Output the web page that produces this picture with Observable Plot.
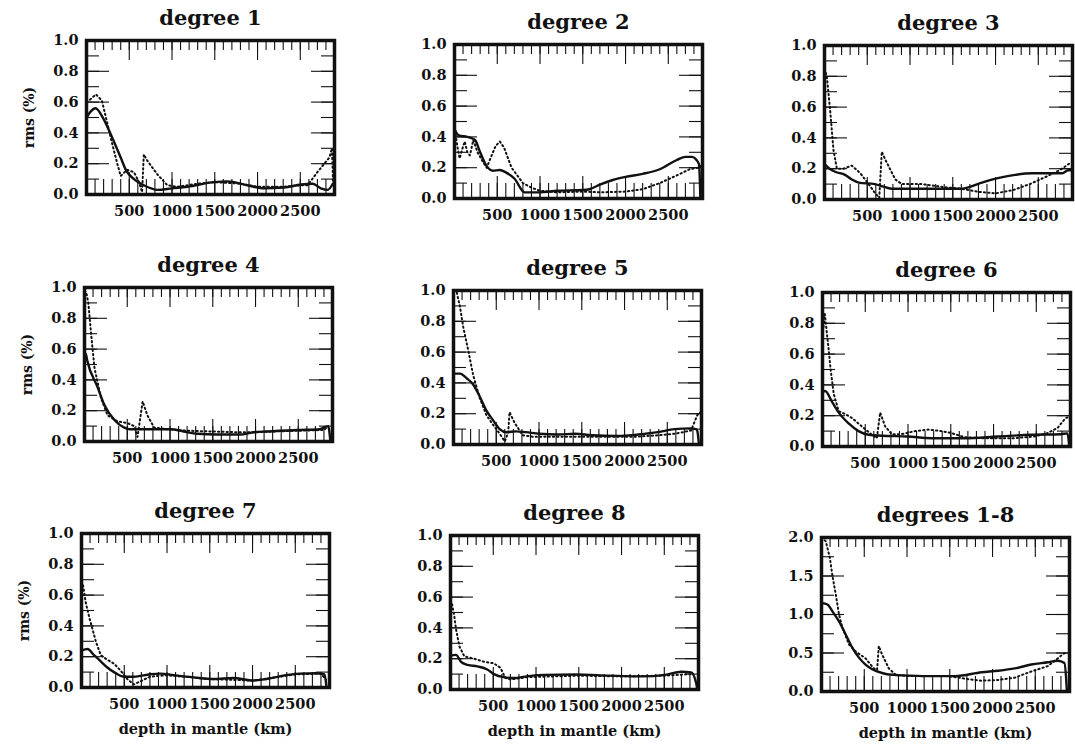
<!DOCTYPE html>
<html><head><meta charset="utf-8">
<script src="https://cdn.jsdelivr.net/npm/d3@7"></script>
<script src="https://cdn.jsdelivr.net/npm/@observablehq/plot@0.6"></script>
<style>
body{margin:0;background:#fff;}
#wrap{position:relative;width:1075px;height:745px;overflow:hidden;background:#fff;}
#wrap svg{position:absolute;overflow:visible;}
</style></head><body><div id="wrap"></div>
<script>
// ---------- data (depth in km, rms in %) ----------
const titles = ["degree 1","degree 2","degree 3","degree 4","degree 5","degree 6","degree 7","degree 8","degrees 1-8"];

const solid1Depth = [0, 50, 105, 200, 300, 400, 460, 555, 670, 830, 1000, 1180, 1490, 1650, 1880, 2080, 2310, 2510, 2645, 2740, 2820, 2880];
const solid1 = [0.50, 0.54, 0.56, 0.49, 0.37, 0.24, 0.16, 0.10, 0.06, 0.03, 0.04, 0.05, 0.08, 0.085, 0.06, 0.04, 0.045, 0.065, 0.07, 0.04, 0.03, 0.07];
const dot1Depth = [0, 50, 110, 180, 300, 360, 400, 475, 555, 615, 650, 670, 710, 830, 945, 1060, 1300, 1500, 1800, 2000, 2300, 2500, 2585, 2700, 2840, 2870, 2885];
const dot1 = [0.60, 0.62, 0.65, 0.61, 0.33, 0.20, 0.12, 0.16, 0.145, 0.08, 0.015, 0.26, 0.22, 0.13, 0.06, 0.05, 0.07, 0.08, 0.07, 0.05, 0.05, 0.06, 0.06, 0.145, 0.24, 0.30, 0.05];

const solid2Depth = [0, 50, 150, 240, 300, 376, 450, 530, 600, 700, 820, 1000, 1200, 1500, 1577, 1700, 1850, 2000, 2200, 2400, 2600, 2700, 2780, 2830, 2860, 2875];
const solid2 = [0.45, 0.41, 0.40, 0.38, 0.30, 0.21, 0.18, 0.185, 0.17, 0.13, 0.04, 0.04, 0.05, 0.055, 0.06, 0.09, 0.12, 0.14, 0.16, 0.19, 0.25, 0.27, 0.27, 0.25, 0.22, 0.0];
const dot2Depth = [0, 30, 60, 90, 120, 150, 180, 220, 270, 330, 376, 420, 480, 530, 580, 667, 800, 900, 1000, 1200, 1500, 1700, 2000, 2200, 2400, 2600, 2750, 2850, 2880];
const dot2 = [0.47, 0.35, 0.26, 0.32, 0.37, 0.30, 0.28, 0.38, 0.30, 0.24, 0.20, 0.26, 0.34, 0.37, 0.33, 0.20, 0.10, 0.07, 0.05, 0.04, 0.045, 0.04, 0.045, 0.06, 0.10, 0.15, 0.19, 0.20, 0.21];

const solid3Depth = [0, 60, 125, 240, 320, 400, 590, 710, 790, 1000, 1300, 1610, 1690, 1840, 2040, 2230, 2430, 2600, 2780, 2850, 2880];
const solid3 = [0.23, 0.20, 0.18, 0.16, 0.13, 0.11, 0.10, 0.08, 0.07, 0.07, 0.07, 0.07, 0.08, 0.11, 0.14, 0.16, 0.17, 0.17, 0.17, 0.19, 0.19];
const dot3Depth = [0, 27, 66, 105, 145, 220, 320, 420, 515, 594, 640, 670, 710, 828, 906, 1060, 1140, 1400, 1600, 1800, 2000, 2200, 2400, 2600, 2750, 2880];
const dot3 = [0.85, 0.80, 0.58, 0.32, 0.20, 0.20, 0.22, 0.17, 0.10, 0.04, 0.01, 0.31, 0.26, 0.13, 0.10, 0.10, 0.10, 0.08, 0.07, 0.05, 0.04, 0.06, 0.10, 0.15, 0.19, 0.24];

const solid4Depth = [0, 15, 30, 155, 230, 350, 465, 525, 700, 1010, 1160, 1320, 1550, 1820, 1980, 2130, 2520, 2750, 2850, 2875];
const solid4 = [0.57, 0.57, 0.53, 0.35, 0.24, 0.14, 0.09, 0.08, 0.08, 0.08, 0.065, 0.05, 0.045, 0.045, 0.06, 0.065, 0.075, 0.08, 0.10, 0.0];
const dot4Depth = [0, 20, 45, 77, 116, 194, 270, 388, 500, 580, 620, 680, 735, 815, 970, 1200, 1500, 1800, 2000, 2200, 2500, 2800, 2850];
const dot4 = [0.98, 0.97, 0.90, 0.70, 0.48, 0.28, 0.17, 0.13, 0.12, 0.10, 0.03, 0.26, 0.17, 0.09, 0.08, 0.07, 0.065, 0.06, 0.06, 0.065, 0.07, 0.075, 0.10];

const solid5Depth = [0, 77, 154, 230, 308, 385, 460, 540, 615, 730, 846, 1000, 1230, 1420, 1615, 1920, 2160, 2390, 2585, 2777, 2835, 2850, 2870];
const solid5 = [0.46, 0.46, 0.43, 0.39, 0.31, 0.22, 0.16, 0.10, 0.08, 0.085, 0.08, 0.07, 0.065, 0.07, 0.06, 0.055, 0.065, 0.08, 0.10, 0.105, 0.10, 0.09, 0.0];
const dot5Depth = [0, 38, 77, 115, 173, 230, 308, 385, 460, 540, 600, 640, 655, 715, 810, 930, 1200, 1500, 1800, 2100, 2400, 2585, 2777, 2850, 2890];
const dot5 = [1.0, 0.99, 0.89, 0.76, 0.61, 0.45, 0.30, 0.19, 0.13, 0.07, 0.02, 0.08, 0.21, 0.14, 0.06, 0.05, 0.05, 0.05, 0.05, 0.05, 0.06, 0.07, 0.09, 0.19, 0.21];

const solid6Depth = [0, 30, 112, 190, 306, 422, 539, 694, 1000, 1275, 1663, 2050, 2438, 2787, 2865, 2885];
const solid6 = [0.35, 0.36, 0.29, 0.22, 0.15, 0.10, 0.076, 0.07, 0.065, 0.054, 0.054, 0.065, 0.076, 0.08, 0.085, 0.0];
const dot6Depth = [0, 27, 74, 93, 132, 190, 267, 345, 461, 578, 636, 674, 733, 810, 926, 1081, 1236, 1391, 1508, 1663, 1857, 2244, 2476, 2630, 2747, 2844, 2880];
const dot6 = [0.72, 0.86, 0.62, 0.51, 0.34, 0.23, 0.21, 0.185, 0.13, 0.076, 0.054, 0.22, 0.13, 0.08, 0.08, 0.10, 0.11, 0.10, 0.087, 0.06, 0.054, 0.054, 0.065, 0.087, 0.12, 0.185, 0.19];

const solid7Depth = [0, 70, 147, 225, 302, 380, 496, 612, 806, 922, 1077, 1310, 1543, 1775, 2008, 2163, 2357, 2550, 2744, 2841, 2865];
const solid7 = [0.24, 0.25, 0.21, 0.17, 0.13, 0.10, 0.07, 0.07, 0.086, 0.09, 0.08, 0.066, 0.055, 0.062, 0.045, 0.055, 0.077, 0.09, 0.093, 0.085, 0.0];
const dot7Depth = [0, 20, 50, 89, 128, 167, 225, 302, 380, 457, 535, 612, 690, 800, 1000, 1500, 2000, 2500, 2800, 2860];
const dot7 = [0.69, 0.66, 0.55, 0.46, 0.38, 0.30, 0.21, 0.18, 0.155, 0.11, 0.055, 0.02, 0.04, 0.07, 0.08, 0.055, 0.045, 0.085, 0.09, 0.05];

const solid8Depth = [0, 65, 123, 200, 315, 430, 508, 623, 738, 892, 1085, 1469, 1854, 2238, 2508, 2700, 2815, 2873, 2885];
const solid8 = [0.22, 0.225, 0.18, 0.16, 0.15, 0.13, 0.10, 0.08, 0.075, 0.085, 0.095, 0.097, 0.09, 0.085, 0.095, 0.115, 0.11, 0.04, 0.0];
const dot8Depth = [0, 20, 46, 65, 104, 162, 277, 392, 508, 585, 642, 700, 900, 1500, 2000, 2500, 2800];
const dot8 = [0.58, 0.55, 0.47, 0.39, 0.28, 0.215, 0.20, 0.18, 0.17, 0.14, 0.075, 0.065, 0.08, 0.09, 0.085, 0.09, 0.10];

const solid9Depth = [0, 70, 128, 205, 283, 360, 438, 515, 593, 709, 787, 942, 1252, 1562, 1872, 2066, 2260, 2453, 2647, 2763, 2841, 2870];
const solid9 = [1.15, 1.13, 1.04, 0.91, 0.74, 0.57, 0.44, 0.35, 0.29, 0.24, 0.22, 0.21, 0.20, 0.20, 0.25, 0.27, 0.30, 0.35, 0.38, 0.40, 0.37, 0.0];
const dot9Depth = [0, 50, 97, 128, 167, 205, 244, 322, 399, 515, 612, 650, 670, 709, 787, 864, 1019, 1291, 1485, 1717, 1872, 2066, 2260, 2453, 2647, 2763, 2841, 2870];
const dot9 = [2.0, 1.95, 1.74, 1.5, 1.26, 1.0, 0.83, 0.61, 0.52, 0.43, 0.30, 0.28, 0.59, 0.48, 0.30, 0.22, 0.20, 0.20, 0.20, 0.16, 0.14, 0.15, 0.18, 0.26, 0.33, 0.43, 0.50, 0.48];

const xTickLabels = [500, 1000, 1500, 2000, 2500];
const yTickLabels1 = [0, 0.2, 0.4, 0.6, 0.8, 1.0];
const yTickLabels2 = [0, 0.5, 1.0, 1.5, 2.0];
const yMaxes = [1, 1, 1, 1, 1, 1, 1, 1, 2];

const solidDepths = [solid1Depth, solid2Depth, solid3Depth, solid4Depth, solid5Depth, solid6Depth, solid7Depth, solid8Depth, solid9Depth];
const solids = [solid1, solid2, solid3, solid4, solid5, solid6, solid7, solid8, solid9];
const dotDepths = [dot1Depth, dot2Depth, dot3Depth, dot4Depth, dot5Depth, dot6Depth, dot7Depth, dot8Depth, dot9Depth];
const dots = [dot1, dot2, dot3, dot4, dot5, dot6, dot7, dot8, dot9];

// ---------- layout ----------
const panelLeft = [86, 454, 824, 84, 453, 822, 81, 450, 821];
const panelTop = [40, 44, 45, 287, 290, 292, 533, 535, 537];
const W = 248, H = 154, mL = 72, mR = 8, mT = 42, mB = 62;

const wrap = document.getElementById("wrap");

for (let i = 0; i < 9; i++) {
  const ymax = yMaxes[i];
  const sData = solidDepths[i].map((x, j) => ({x, y: solids[i][j]}));
  const dData = dotDepths[i].map((x, j) => ({x, y: dots[i][j]}));
  const minorX = d3.range(100, 2900, 100);
  const majorX = xTickLabels;
  const yStep = ymax === 1 ? 0.1 : 0.25;
  const n = Math.round(ymax / yStep);
  const yMinor = d3.range(1, n).map(k => k * yStep);
  const yMajor = d3.range(2, n, 2).map(k => k * yStep);
  const col = i % 3, row = Math.floor(i / 3);
  const marks = [
    Plot.ruleX(minorX, {insetBottom: H - 10, stroke: "#111", strokeWidth: 1.1}),
    Plot.ruleX(majorX, {insetBottom: H - 20, stroke: "#111", strokeWidth: 1.1}),
    Plot.ruleX(minorX, {insetTop: H - 15, stroke: "#111", strokeWidth: 1.1}),
    Plot.ruleX(majorX, {insetTop: H - 22, stroke: "#111", strokeWidth: 1.1}),
    Plot.ruleY(yMinor, {insetRight: W - 13, stroke: "#111", strokeWidth: 1.1}),
    Plot.ruleY(yMajor, {insetRight: W - 23, stroke: "#111", strokeWidth: 1.1}),
    Plot.ruleY(yMinor, {insetLeft: W - 13, stroke: "#111", strokeWidth: 1.1}),
    Plot.ruleY(yMajor, {insetLeft: W - 23, stroke: "#111", strokeWidth: 1.1}),
    Plot.line(dData, {x: "x", y: "y", stroke: "#111", strokeWidth: 2, strokeDasharray: "1.3,3"}),
    Plot.line(sData, {x: "x", y: "y", stroke: "#111", strokeWidth: 2.4, curve: "monotone-x"}),
    Plot.frame({stroke: "#111", strokeWidth: 3.5}),
    Plot.text([titles[i]], {frameAnchor: "top", dy: -22, lineAnchor: "middle", textAnchor: "middle", fontSize: 21, fontWeight: "bold", fill: "#111"})
  ];
  if (col === 0) marks.push(Plot.text(["rms (%)"], {frameAnchor: "left", dx: -57, rotate: -90, textAnchor: "middle", lineAnchor: "middle", fontSize: 14, fontWeight: "bold", fill: "#111"}));
  if (row === 2) marks.push(Plot.text(["depth in mantle (km)"], {frameAnchor: "bottom", dy: 42, textAnchor: "middle", lineAnchor: "middle", fontSize: 14.5, fontWeight: "bold", fill: "#111"}));
  const svg = Plot.plot({
    width: mL + W + mR,
    height: mT + H + mB,
    marginLeft: mL, marginRight: mR, marginTop: mT, marginBottom: mB,
    style: {fontFamily: "'DejaVu Serif', serif", fontWeight: "bold", fontSize: "14.5px", color: "#111", background: "transparent", overflow: "visible"},
    x: {domain: [0, 2900], ticks: xTickLabels, tickSize: 0, tickPadding: 11, tickFormat: d => String(d), label: null},
    y: {domain: [0, ymax], ticks: ymax === 1 ? yTickLabels1 : yTickLabels2, tickSize: 0, tickPadding: 8, tickFormat: d3.format(".1f"), label: null},
    marks
  });
  svg.style.left = (panelLeft[i] - mL) + "px";
  svg.style.top = (panelTop[i] - mT) + "px";
  svg.style.position = "absolute";
  svg.style.maxWidth = "none";
  wrap.appendChild(svg);
}
</script></body></html>
